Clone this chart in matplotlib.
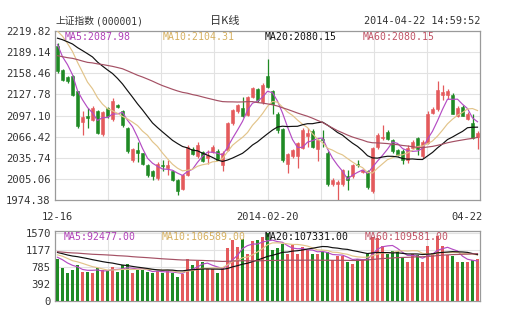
import numpy as np
import pandas as pd
import matplotlib
matplotlib.use("Agg")
import matplotlib.pyplot as plt

W, H, DPI = 505, 330, 100

# Daily bars of the SSE Composite, 2013-12-16 .. 2014-04-22
opens = [2197.6, 2163.7, 2152.5, 2154.0, 2132.2, 2088.0, 2096.0, 2091.0, 2103.0, 2070.3,
         2108.0, 2092.0, 2112.8, 2103.0, 2079.0, 2033.0, 2047.0, 2042.0, 2025.7, 2016.0,
         2007.0, 2025.7, 2021.0, 2016.0, 2003.0, 1991.0, 2011.0, 2049.0, 2038.0, 2044.0,
         2035.0, 2044.0, 2046.0, 2025.0, 2047.0, 2086.0, 2103.0, 2108.0, 2098.0, 2124.0,
         2135.0, 2117.0, 2154.0, 2132.0, 2100.0, 2078.0, 2026.0, 2038.0, 2038.0, 2050.0,
         2067.0, 2075.0, 2048.0, 2063.0, 2043.0, 1997.0, 1998.0, 1997.0, 2009.0, 2009.0,
         2027.0, 2015.0, 2016.0, 1987.0, 2051.0, 2064.0, 2073.0, 2061.0, 2047.0, 2046.0,
         2033.0, 2050.0, 2064.0, 2038.0, 2057.0, 2101.0, 2106.0, 2127.0, 2127.0, 2127.0,
         2097.0, 2110.0, 2092.0, 2086.0, 2066.0]
highs = [2202.4, 2165.0, 2154.0, 2156.0, 2133.0, 2103.0, 2108.0, 2111.0, 2105.0, 2104.0,
         2110.0, 2122.0, 2114.0, 2105.0, 2080.0, 2050.0, 2059.0, 2043.0, 2027.0, 2018.0,
         2029.0, 2033.0, 2033.0, 2018.0, 2005.0, 2012.0, 2054.0, 2052.0, 2058.0, 2046.0,
         2047.0, 2054.0, 2048.0, 2045.0, 2088.0, 2107.0, 2114.0, 2124.0, 2126.0, 2139.0,
         2137.0, 2144.0, 2179.0, 2134.0, 2102.0, 2079.0, 2043.0, 2049.0, 2059.0, 2079.0,
         2079.0, 2077.0, 2064.0, 2076.5, 2045.0, 2006.0, 2004.0, 2020.0, 2018.0, 2027.0,
         2033.0, 2020.0, 2018.0, 2052.0, 2071.0, 2084.0, 2076.0, 2063.0, 2049.0, 2048.0,
         2054.0, 2062.0, 2066.0, 2062.0, 2103.0, 2110.0, 2147.0, 2141.0, 2136.0, 2130.0,
         2111.0, 2112.0, 2102.0, 2100.0, 2074.0]
lows = [2159.5, 2147.0, 2145.0, 2126.0, 2079.0, 2069.0, 2079.0, 2089.0, 2070.0, 2068.0,
        2094.0, 2089.0, 2108.0, 2080.0, 2043.0, 2030.0, 2030.0, 2025.0, 2008.0, 2004.0,
        2004.0, 2016.0, 2011.0, 2002.0, 1981.0, 1989.0, 2009.0, 2040.0, 2036.0, 2030.0,
        2026.0, 2042.0, 2032.0, 2016.0, 2045.0, 2084.0, 2101.0, 2095.0, 2096.0, 2122.0,
        2117.0, 2114.0, 2137.0, 2100.0, 2072.0, 2030.0, 2014.0, 2036.0, 2021.0, 2048.0,
        2052.0, 2050.0, 2031.0, 2052.0, 1995.0, 1995.0, 1974.5, 1995.0, 1989.5, 2007.0,
        2022.0, 2013.0, 1991.0, 1985.0, 2049.0, 2062.0, 2061.0, 2043.0, 2038.0, 2026.0,
        2028.0, 2048.0, 2040.0, 2036.0, 2055.0, 2099.0, 2104.0, 2120.0, 2121.0, 2099.0,
        2095.0, 2096.0, 2090.0, 2063.0, 2048.0]
closes = [2161.2, 2149.2, 2146.7, 2127.4, 2081.4, 2095.0, 2093.0, 2108.0, 2071.7, 2102.2,
          2095.9, 2118.0, 2109.5, 2083.0, 2045.0, 2049.0, 2043.0, 2027.0, 2011.2, 2008.8,
          2026.7, 2023.3, 2025.0, 2004.0, 1988.0, 2010.0, 2052.0, 2041.0, 2054.5, 2031.5,
          2040.0, 2052.0, 2033.0, 2043.0, 2086.0, 2105.5, 2112.0, 2096.0, 2124.5, 2137.0,
          2119.0, 2142.0, 2139.0, 2114.0, 2076.0, 2033.0, 2041.0, 2047.0, 2057.0, 2076.0,
          2071.0, 2052.0, 2062.0, 2061.0, 1997.0, 2004.0, 2001.0, 2018.0, 2004.0, 2025.0,
          2024.5, 2018.0, 1993.0, 2050.0, 2069.0, 2066.0, 2063.0, 2045.0, 2040.0, 2032.0,
          2050.0, 2058.0, 2048.0, 2058.0, 2100.0, 2107.0, 2134.0, 2131.0, 2132.0, 2099.0,
          2108.0, 2097.0, 2100.0, 2064.0, 2071.0]
volumes = [974, 772, 640, 718, 835, 671, 671, 640, 756, 718,
           702, 795, 671, 819, 850, 640, 718, 718, 671, 640,
           702, 640, 702, 655, 562, 620, 980, 840, 920, 900,
           730, 730, 645, 750, 1215, 1410, 1255, 1430, 1095, 1400,
           1410, 1485, 1570, 1175, 1230, 1330, 1095, 1290, 1095, 1255,
           1175, 1080, 1080, 1135, 1135, 940, 1045, 1045, 900, 865,
           980, 980, 1095, 1485, 1450, 1262, 1080, 1145, 1145, 1000,
           900, 1080, 1060, 900, 1277, 1100, 1511, 1262, 1060, 1050,
           900, 905, 905, 940, 974]

# Sessions before the window (2013-09-13 .. 2013-12-13), used only by the moving averages
prior_closes = [2236, 2232, 2185, 2191, 2222, 2207, 2155, 2156, 2160, 2175,
                2198, 2211, 2191, 2228, 2238, 2233, 2183, 2188, 2194, 2229,
                2210, 2183, 2164, 2133, 2133, 2128, 2160, 2141, 2149, 2150,
                2157, 2139, 2129, 2106, 2109, 2126, 2087, 2100, 2135, 2198,
                2193, 2207, 2192, 2186, 2182, 2183, 2202, 2220, 2220, 2207,
                2222, 2251, 2245, 2238, 2238, 2238, 2204, 2201, 2197]
prior_volumes = [1380, 1290, 1175, 1120, 1240, 1205, 1150, 1060, 1010, 1085,
                 1190, 1235, 1160, 1270, 1315, 1220, 1140, 1105, 1180, 1230,
                 1175, 1110, 1060, 1025, 1000, 985, 1090, 1120, 1065, 1040,
                 1010, 1075, 1095, 1030, 1005, 1110, 1150, 1265, 1390, 1420,
                 1310, 1260, 1195, 1140, 1120, 1105, 1150, 1210, 1180, 1090,
                 1085, 1160, 1240, 1105, 1020, 1060, 1015, 990, 1011]

ma_periods = [5, 10, 20, 60]
ma_colors = ["#b44cc4", "#e2c48a", "#111111", "#a45064"]
ma_label_colors = ["#b040b8", "#d6b060", "#111111", "#c05264"]
price_ma_labels = ["MA5:2087.98", "MA10:2104.31", "MA20:2080.15", "MA60:2080.15"]
vol_ma_labels = ["MA5:92477.00", "MA10:106589.00", "MA20:107331.00", "MA60:109581.00"]
price_ticks = [1974.38, 2005.06, 2035.74, 2066.42, 2097.10, 2127.78, 2158.46, 2189.14, 2219.82]
vol_ticks = [0, 392, 785, 1177, 1570]
date_labels = ["12-16", "2014-02-20", "04-22"]
date_label_idx = [0, 42, 84]

RED = "#e45a5c"
GREEN = "#1f8a24"
GRID = "#e2e2e2"
FRAME = "#9a9a9a"
TXT = "#333333"
MONO = "DejaVu Sans Mono"
CJK = ["Noto Sans CJK SC", "DejaVu Sans"]

n = len(closes)
x = np.arange(n)
o = np.array(opens); h = np.array(highs); l = np.array(lows); c = np.array(closes)
v = np.array(volumes, dtype=float)
up = c >= o
colors = np.where(up, RED, GREEN)

all_close = pd.Series(prior_closes + closes, dtype=float)
all_vol = pd.Series(prior_volumes + volumes, dtype=float)
p0 = len(prior_closes)

fig = plt.figure(figsize=(W / DPI, H / DPI), dpi=DPI)
fig.patch.set_facecolor("white")


def px_axes(left, top, right, bottom):
    return fig.add_axes([left / W, (H - bottom) / H, (right - left) / W, (bottom - top) / H])


ax = px_axes(55, 31, 480, 200)
axv = px_axes(55, 230.7, 480, 300.7)

vgrid = [-0.5 + n / 8 * k for k in range(1, 8)]

for a in (ax, axv):
    a.set_xlim(-0.5, n - 0.5)
    a.set_xticks([])
    for s in a.spines.values():
        s.set_color(FRAME)
        s.set_linewidth(0.9)
    for gx in vgrid:
        a.axvline(gx, color=GRID, lw=0.8, zorder=0)
    a.tick_params(axis="y", length=0, pad=3, labelsize=7.6, labelcolor=TXT)

# ---- price panel ----
ax.set_ylim(price_ticks[0], price_ticks[-1])
ax.set_yticks(price_ticks)
ax.set_yticklabels([f"{t:.2f}" for t in price_ticks], family=MONO)
for t in price_ticks[1:-1]:
    ax.axhline(t, color=GRID, lw=0.8, zorder=0)

ax.vlines(x, l, h, colors=colors, lw=0.9, zorder=3)
body_lo = np.minimum(o, c)
body_h = np.maximum(np.abs(c - o), 0.8)
ax.bar(x, body_h, bottom=body_lo, width=0.72, color=colors, edgecolor=colors,
       linewidth=0.4, zorder=4)

for per, col in zip(ma_periods, ma_colors):
    ma = all_close.rolling(per).mean().to_numpy()[p0:]
    ax.plot(x, ma, color=col, lw=0.85, zorder=5)

label_x = [65, 163, 265, 363]
for lx, txt, col in zip(label_x, price_ma_labels, ma_label_colors):
    fig.text(lx / W, (H - 37) / H, txt, color=col, family=MONO, fontsize=7.1,
             ha="left", va="center")

# ---- volume panel ----
axv.set_ylim(0, 1628)
axv.set_yticks(vol_ticks)
axv.set_yticklabels([str(t) for t in vol_ticks], family=MONO)
for t in vol_ticks[1:]:
    axv.axhline(t, color=GRID, lw=0.8, zorder=0)
axv.bar(x, v, width=0.78, color=colors, edgecolor="none", zorder=3)
for per, col in zip(ma_periods, ma_colors):
    ma = all_vol.rolling(per).mean().to_numpy()[p0:]
    axv.plot(x, ma, color=col, lw=0.85, zorder=5)
for lx, txt, col in zip([64, 162, 265, 365], vol_ma_labels, ma_label_colors):
    fig.text(lx / W, (H - 237.5) / H, txt, color=col, family=MONO, fontsize=7.1,
             ha="left", va="center")

# ---- header and date axis ----
fig.text(55 / W, (H - 21) / H, "上证指数", family=CJK, fontsize=7.0, color=TXT,
         ha="left", va="center")
fig.text(96 / W, (H - 21) / H, "(000001)", family=MONO, fontsize=7.0, color=TXT,
         ha="left", va="center")
fig.text(225 / W, (H - 21) / H, "日K线", family=CJK, fontsize=8.0, color=TXT,
         ha="center", va="center")
fig.text(480 / W, (H - 21) / H, "2014-04-22 14:59:52", family=MONO, fontsize=7.3,
         color=TXT, ha="right", va="center")

for idx, txt in zip(date_label_idx, date_labels):
    xpix = 55 + (idx + 0.5) * 425 / n
    ha = "center"
    if idx == n - 1:
        xpix, ha = 483, "right"
    fig.text(xpix / W, (H - 216.5) / H, txt, family=MONO, fontsize=7.5, color=TXT,
             ha=ha, va="center")

fig.savefig("out.png", dpi=DPI, facecolor="white")
